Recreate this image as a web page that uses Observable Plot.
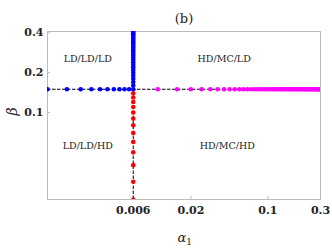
<!DOCTYPE html>
<html>
<head>
<meta charset="utf-8">
<script src="https://cdn.jsdelivr.net/npm/d3@7"></script>
<script src="https://cdn.jsdelivr.net/npm/@observablehq/plot@0.6"></script>
<style>
  html, body { margin: 0; padding: 0; background: #fff; }
  #chart { width: 332px; height: 248px; }
</style>
</head>
<body>
<div id="chart"></div>
<script>
// critical values
const alphaC = [0.006];
const betaC = [0.15];
const betaMin = 0.022;

// blue points on the horizontal boundary (alpha1 < 0.006)
const blueAlpha = [0.001, 0.0015, 0.002, 0.0025, 0.003, 0.0035, 0.004, 0.0045, 0.005, 0.0055, 0.006];
// blue points on the vertical boundary (beta > 0.15)
const blueBeta = [0.16, 0.17, 0.18, 0.19, 0.20, 0.21, 0.22, 0.23, 0.24, 0.25, 0.26, 0.27, 0.28, 0.29, 0.30, 0.31, 0.32, 0.33, 0.34, 0.35, 0.36, 0.37, 0.38, 0.39, 0.40, 0.41];
// red points on the vertical boundary (beta < 0.15)
const redBeta = [0.022, 0.03, 0.04, 0.05, 0.06, 0.07, 0.08, 0.09, 0.10, 0.11, 0.12, 0.13, 0.14];
// magenta points on the horizontal boundary (alpha1 > 0.006)
const magentaAlpha = [0.01, 0.015, 0.02, 0.025, 0.03, 0.035, 0.04, 0.045, 0.05, 0.055, 0.06, 0.065, 0.07, 0.075, 0.08, 0.085, 0.09, 0.095, 0.1, 0.105, 0.11, 0.115, 0.12, 0.125, 0.13, 0.135, 0.14, 0.145, 0.15, 0.155, 0.16, 0.165, 0.17, 0.175, 0.18, 0.185, 0.19, 0.195, 0.2, 0.205, 0.21, 0.215, 0.22, 0.225, 0.23, 0.235, 0.24, 0.245, 0.25, 0.255, 0.26, 0.265, 0.27, 0.275, 0.28, 0.285, 0.29, 0.295, 0.3];

// region labels
const regionNames = ["LD/LD/LD", "HD/MC/LD", "LD/LD/HD", "HD/MC/HD"];
const regionAlpha = [0.00232, 0.0401, 0.00232, 0.0428];
const regionBeta = [0.254, 0.254, 0.0555, 0.0555];

const xTicks = [0.006, 0.02, 0.1, 0.3];
const xTickLabels = ["0.006", "0.02", "0.1", "0.3"];
const yTicks = [0.1, 0.2, 0.4];
const yTickLabels = ["0.1", "0.2", "0.4"];

const regions = regionNames.map((name, i) => ({name, a: regionAlpha[i], b: regionBeta[i]}));
const xTickData = xTicks.map((v, i) => ({v, label: xTickLabels[i]}));
const yTickData = yTicks.map((v, i) => ({v, label: yTickLabels[i]}));
const serif = "DejaVu Serif";

const plot = Plot.plot({
  width: 332,
  height: 248,
  marginLeft: 47,
  marginRight: 12,
  marginTop: 31,
  marginBottom: 49,
  style: {fontFamily: serif, background: "#fff", color: "#222"},
  x: {type: "log", domain: [0.001, 0.3]},
  y: {type: "log", domain: [betaMin, 0.41]},
  marks: [
    Plot.frame({stroke: "#bbb", strokeWidth: 1}),
    Plot.axisX({ticks: xTicks, tickFormat: () => "", tickSize: -3, stroke: "#bbb", label: null}),
    Plot.axisY({ticks: yTicks, tickFormat: () => "", tickSize: -3, stroke: "#bbb", label: null}),
    Plot.text(xTickData, {x: "v", text: "label", frameAnchor: "bottom", dy: 14, fontWeight: "bold", fontSize: 11, fill: "#222"}),
    Plot.text(yTickData, {y: "v", text: "label", frameAnchor: "left", dx: -4, textAnchor: "end", fontWeight: "bold", fontSize: 11, fill: "#222"}),
    Plot.text(["α"], {frameAnchor: "bottom", dx: -2, dy: 42, fontSize: 13, fontStyle: "italic", fill: "#222"}),
    Plot.text(["1"], {frameAnchor: "bottom", dx: 5, dy: 45, fontSize: 9, fill: "#222"}),
    Plot.text(["β"], {frameAnchor: "left", dx: -35, rotate: -90, fontSize: 14, fontStyle: "italic", fill: "#222"}),
    Plot.text(["(b)"], {frameAnchor: "top", dy: -18, fontSize: 13, letterSpacing: "1px", fill: "#222"}),
    Plot.ruleY(betaC, {stroke: "black", strokeWidth: 1, strokeDasharray: "3.5,1.5"}),
    Plot.ruleX(alphaC, {y1: betaMin, y2: betaC[0], stroke: "black", strokeWidth: 1, strokeDasharray: "3.5,1.5"}),
    Plot.dot(blueAlpha, {x: (d) => d, y: () => betaC[0], r: 2.3, fill: "#0000ff", stroke: "none", clip: true}),
    Plot.dot(magentaAlpha, {x: (d) => d, y: () => betaC[0], r: 2.3, fill: "#ff00ff", stroke: "none", clip: true}),
    Plot.dot(redBeta, {x: () => alphaC[0], y: (d) => d, r: 2.3, fill: "#ff0000", stroke: "none", clip: true}),
    Plot.dot(blueBeta, {x: () => alphaC[0], y: (d) => d, r: 2.3, fill: "#0000ff", stroke: "none", clip: true}),
    Plot.text(regions, {x: "a", y: "b", text: "name", fontSize: 9.5, fill: "#222"})
  ]
});
document.getElementById("chart").appendChild(plot);
</script>
</body>
</html>
